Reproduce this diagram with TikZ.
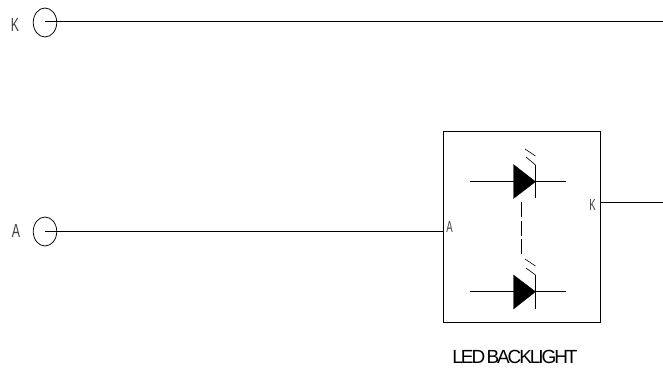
\documentclass[tikz,border=0pt]{standalone}
\usepackage{fontspec}
\usetikzlibrary{shapes.geometric}
\setmainfont{Liberation Sans}
\newfontfamily\tightfont[LetterSpace=-11,WordSpace=0.4]{Liberation Sans}
\definecolor{lblgray}{gray}{0.25}
\begin{document}
\begin{tikzpicture}[x=1pt,y=-1pt,line width=0.75pt,
  terminal/.style={draw,ellipse,minimum width=23.5pt,minimum height=29pt,inner sep=0pt},
  lbl/.style={inner sep=0pt,text=lblgray,font=\fontsize{19}{19}\selectfont},
  pinlbl/.style={inner sep=0pt,text=lblgray,font=\fontsize{16}{16}\selectfont},
  ledbody/.style={fill=black,draw=black,line width=0.3pt},
  hairline/.style={line width=0.65pt}]
\useasboundingbox (0,0) rectangle (663,369);
\fill[white] (0,0) rectangle (663,369);
% terminals
\node[terminal] (tk) at (45,22.5) {};
\node[terminal] (ta) at (45,231.5) {};
\node[lbl] (lk) at (15,25) {\scalebox{0.65}[1]{K}};
\node[lbl] (la) at (16,230.5) {\scalebox{0.65}[1]{A}};
% box
\node[draw,minimum width=157pt,minimum height=191pt,inner sep=0pt,anchor=north west] (box) at (442.8,130.8) {};
\coordinate (kend) at (663,21.5);
\coordinate (boxa) at (442.8,231.5);
\coordinate (boxk) at (599.8,202.5);
\coordinate (kout) at (663,202.5);
\draw (tk.center) ++(0,-1) -- (kend);
\draw (ta.center) -- (boxa);
\draw (boxk) -- (kout);
\node[pinlbl] (pa) at (449.5,227) {\scalebox{0.6}[1]{A}};
\node[pinlbl] (pk) at (592.5,204.5) {\scalebox{0.6}[1]{K}};
% upper LED
\coordinate (u1) at (470,181.7);
\coordinate (u2) at (566,181.7);
\coordinate (ua) at (513.5,181.7);
\coordinate (uk) at (535.5,181.7);
\draw (u1) -- (ua);
\draw (uk) -- (u2);
\fill[ledbody] (513.5,164.5) -- (535.5,181.7) -- (513.5,198.5) -- cycle;
\draw[hairline] (535.5,165) -- (535.5,198);
\draw[hairline] (526,157) -- (535.5,165);
\draw[hairline] (525,149) -- (535.5,156);
% lower LED
\coordinate (l1) at (470,291.7);
\coordinate (l2) at (566,291.7);
\coordinate (la2) at (513.5,291.7);
\coordinate (lk2) at (535.5,291.7);
\draw (l1) -- (la2);
\draw (lk2) -- (l2);
\fill[ledbody] (513.5,275) -- (535.5,291.7) -- (513.5,309) -- cycle;
\draw[hairline] (535.5,275) -- (535.5,309);
\draw[hairline] (526,268) -- (535.5,275);
\draw[hairline] (525,259) -- (535.5,266);
% dashed link
\coordinate (d1) at (521.3,202);
\coordinate (d2) at (521.3,257);
\draw[hairline,dash pattern=on 15pt off 3.5pt] (d1) -- (d2);
% caption
\node[inner sep=0pt,font=\tightfont\fontsize{19}{19}\selectfont] (cap) at (515,357) {LED BACKLIGHT};
\end{tikzpicture}
\end{document}
